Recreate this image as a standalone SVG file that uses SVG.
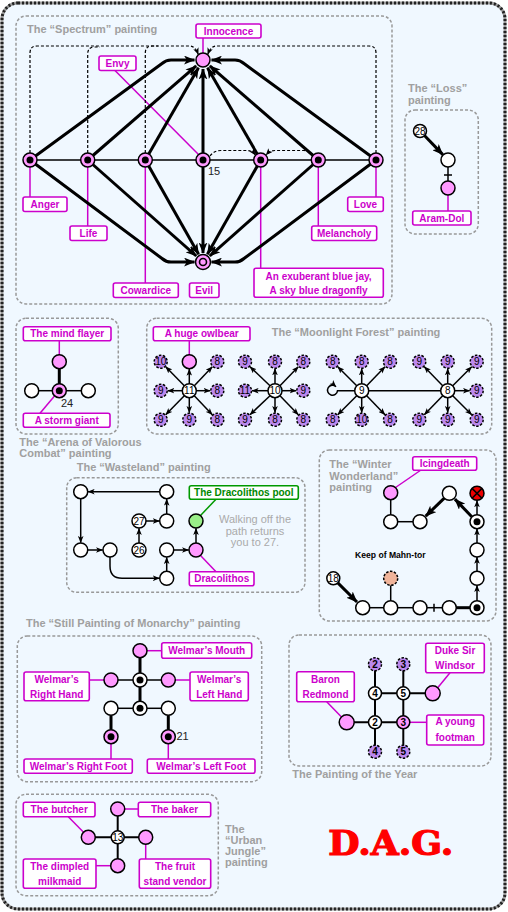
<svg xmlns="http://www.w3.org/2000/svg" width="508" height="912" viewBox="0 0 508 912">
<defs>
<marker id="ab" viewBox="0 0 10 8" refX="9.5" refY="4" markerWidth="11" markerHeight="9" markerUnits="userSpaceOnUse" orient="auto"><path d="M0,0 L10,4 L0,8 L2.5,4 z" fill="#000"/></marker>
<marker id="as" viewBox="0 0 10 8" refX="9.5" refY="4" markerWidth="7" markerHeight="6" markerUnits="userSpaceOnUse" orient="auto"><path d="M0,0 L10,4 L0,8 L2.5,4 z" fill="#000"/></marker>
</defs>
<style>
text{font-family:"Liberation Sans",Arial,sans-serif}
text.dag{font-family:"DejaVu Serif","Liberation Serif",serif;font-weight:bold;font-size:33px;fill:#ff0000;stroke:#ff0000;stroke-width:1.2}
.box{fill:none;stroke:#999;stroke-width:1.5;stroke-dasharray:3 2}
.ttl{font-size:11px;font-weight:bold;fill:#a0a0a0}
.lb rect{fill:#fff;stroke:#cc00cc;stroke-width:1.6}
.lb text{font-size:10px;font-weight:bold;fill:#cc00cc;text-anchor:middle}
.ml{stroke:#cc00cc;stroke-width:1.5;fill:none}
.e{stroke:#000;stroke-width:1.5;fill:none}
.e2{stroke:#000;stroke-width:2;fill:none}
.t{stroke:#000;stroke-width:3;fill:none}
.d{stroke:#000;stroke-width:1.2;fill:none;stroke-dasharray:3 2}
.w{fill:#fff;stroke:#000;stroke-width:1.5}
.p{fill:#ff99ff;stroke:#000;stroke-width:1.5}
.v{fill:#bb88ee;stroke:#000;stroke-width:1.5;stroke-dasharray:2.5 1.5}
.dot{fill:#000}
.num{font-size:10px;fill:#000;text-anchor:middle}
.nb{font-size:10px;font-weight:bold;fill:#000;text-anchor:middle}
.sm{font-size:11px;fill:#222}
</style>

<rect x="2" y="3" width="503" height="906" rx="16" fill="#f0f8ff" stroke="#999" stroke-width="3"/>
<rect x="2" y="3" width="503" height="906" rx="16" fill="none" stroke="#222" stroke-width="3" stroke-dasharray="2 2"/>

<!-- ================= Spectrum ================= -->
<g id="spectrum">
<rect class="box" x="16" y="16" width="376" height="288" rx="10"/>
<text class="ttl" x="27" y="33">The “Spectrum” painting</text>
<g id="spectrum-label-lines">
<line class="ml" x1="203" y1="38" x2="203" y2="53"/>
<line class="ml" x1="115" y1="70.5" x2="199" y2="155"/>
<line class="ml" x1="30" y1="167" x2="30" y2="197"/>
<line class="ml" x1="87.7" y1="167" x2="87.7" y2="226"/>
<line class="ml" x1="145.3" y1="167" x2="145.3" y2="283"/>
<line class="ml" x1="260.7" y1="167" x2="260.7" y2="268"/>
<line class="ml" x1="318.3" y1="167" x2="318.3" y2="226"/>
<line class="ml" x1="376" y1="167" x2="376" y2="197"/>
</g>
<g id="spectrum-connectors">
<line class="e" x1="30" y1="160" x2="376" y2="160"/>
<path class="d" d="M30,153 L30,53 Q30,46 37,46 L190,46 Q195,46 198.3,54.5" marker-end="url(#as)"/>
<path class="d" d="M87.7,153 L87.7,54 Q87.7,47 94.7,47 L100,47"/>
<path class="d" d="M145.3,153 L145.3,53 Q145.3,46 152.3,46 L158,46"/>
<path class="d" d="M376,153 L376,53 Q376,46 369,46 L216,46 Q211,46 207.7,54.5" marker-end="url(#as)"/>
<path class="d" d="M210,156 Q214,150.5 221,150.5 L247,150.5 Q252,150.5 255.5,155" marker-end="url(#as)"/>
<path class="d" d="M313.5,155.5 Q310,150.5 304,150.5 L275,150.5 Q270,150.5 266,155" marker-end="url(#as)"/>
<path class="t" d="M30,160 L162,63.5 Q166,60 171,60 L194.5,60" marker-end="url(#ab)"/>
<path class="t" d="M87.7,160 L196.2,65.9" marker-end="url(#ab)"/>
<path class="t" d="M145.3,160 L198.5,67.8" marker-end="url(#ab)"/>
<path class="t" d="M203,160 L203,69" marker-end="url(#ab)"/>
<path class="t" d="M260.7,160 L207.5,67.8" marker-end="url(#ab)"/>
<path class="t" d="M318.3,160 L209.8,65.9" marker-end="url(#ab)"/>
<path class="t" d="M376,160 L244,63.5 Q240,60 235,60 L211.5,60" marker-end="url(#ab)"/>
<path class="t" d="M30,160 L162,258.5 Q166,262 171,262 L194.5,262" marker-end="url(#ab)"/>
<path class="t" d="M87.7,160 L196.3,256" marker-end="url(#ab)"/>
<path class="t" d="M145.3,160 L198.6,254.2" marker-end="url(#ab)"/>
<path class="t" d="M203,160 L203,253" marker-end="url(#ab)"/>
<path class="t" d="M260.7,160 L207.4,254.2" marker-end="url(#ab)"/>
<path class="t" d="M318.3,160 L209.7,256" marker-end="url(#ab)"/>
<path class="t" d="M376,160 L244,258.5 Q240,262 235,262 L211.5,262" marker-end="url(#ab)"/>
</g>
<g id="s-innocence"><circle class="p" cx="203" cy="60" r="7"/></g>
<g id="s-evil"><circle class="p" cx="203" cy="262" r="7.5"/><circle cx="203" cy="262" r="3.5" fill="#ff99ff" stroke="#000" stroke-width="1.6"/></g>
<g id="s-anger"><circle class="p" cx="30" cy="160" r="7"/><circle class="dot" cx="30" cy="160" r="3.5"/></g>
<g id="s-life"><circle class="p" cx="87.7" cy="160" r="7"/><circle class="dot" cx="87.7" cy="160" r="3.5"/></g>
<g id="s-cowardice"><circle class="p" cx="145.3" cy="160" r="7"/><circle class="dot" cx="145.3" cy="160" r="3.5"/></g>
<g id="s-envy"><circle class="p" cx="203" cy="160" r="7"/><circle class="dot" cx="203" cy="160" r="3.5"/><text class="sm" x="208" y="175">15</text></g>
<g id="s-bluejay"><circle class="p" cx="260.7" cy="160" r="7"/><circle class="dot" cx="260.7" cy="160" r="3.5"/></g>
<g id="s-melancholy"><circle class="p" cx="318.3" cy="160" r="7"/><circle class="dot" cx="318.3" cy="160" r="3.5"/></g>
<g id="s-love"><circle class="p" cx="376" cy="160" r="7"/><circle class="dot" cx="376" cy="160" r="3.5"/></g>
<g id="lbl-innocence" class="lb"><rect x="196" y="24" width="65" height="14" rx="2"/><text x="228.5" y="34.5">Innocence</text></g>
<g id="lbl-envy" class="lb"><rect x="99" y="56" width="37" height="14.5" rx="2"/><text x="117.5" y="66.7">Envy</text></g>
<g id="lbl-anger" class="lb"><rect x="23" y="197" width="44" height="14.5" rx="2"/><text x="45" y="207.7">Anger</text></g>
<g id="lbl-life" class="lb"><rect x="70" y="226" width="37" height="14.5" rx="2"/><text x="88.5" y="236.7">Life</text></g>
<g id="lbl-cowardice" class="lb"><rect x="113.3" y="283" width="65" height="14.5" rx="2"/><text x="145.8" y="293.7">Cowardice</text></g>
<g id="lbl-evil" class="lb"><rect x="189.5" y="283" width="29.5" height="14.5" rx="2"/><text x="204.2" y="293.7">Evil</text></g>
<g id="lbl-bluejay" class="lb"><rect x="254" y="268.3" width="129.3" height="29" rx="2"/><text x="318.6" y="279.7">An exuberant blue jay,</text><text x="318.6" y="294">A sky blue dragonfly</text></g>
<g id="lbl-melancholy" class="lb"><rect x="311.7" y="226" width="65" height="14.5" rx="2"/><text x="344.2" y="236.7">Melancholy</text></g>
<g id="lbl-love" class="lb"><rect x="347.7" y="197" width="35.6" height="14.5" rx="2"/><text x="365.5" y="207.7">Love</text></g>
</g>

<!-- ================= Loss ================= -->
<g id="loss">
<text class="ttl" x="408" y="92">The “Loss”</text>
<text class="ttl" x="408" y="103.5">painting</text>
<rect class="box" x="405" y="110" width="73.3" height="124" rx="10"/>
<g id="loss-connectors">
<line class="t" x1="424.2" y1="135.3" x2="442.8" y2="154.6" marker-end="url(#ab)"/>
<line class="e" x1="448" y1="167" x2="448" y2="181"/>
<line class="e" x1="444" y1="175" x2="452" y2="175"/>
<line class="ml" x1="448" y1="195" x2="448" y2="211"/>
</g>
<g id="loss-28"><circle class="w" cx="420" cy="131" r="6.5"/><text class="num" x="420" y="134.5">28</text></g>
<g id="loss-a"><circle class="w" cx="448" cy="160" r="7"/></g>
<g id="loss-aramdol"><circle class="p" cx="448" cy="188" r="7"/></g>
<g id="lbl-aramdol" class="lb"><rect x="412.7" y="211" width="58.3" height="14" rx="2"/><text x="441.8" y="221.5">Aram-Dol</text></g>
</g>

<!-- ================= Arena ================= -->
<g id="arena">
<rect class="box" x="16" y="318.3" width="102.3" height="115.7" rx="10"/>
<text class="ttl" x="19.3" y="445.7">The “Arena of Valorous</text>
<text class="ttl" x="19.3" y="456.7">Combat” painting</text>
<g id="arena-connectors">
<line class="ml" x1="59.3" y1="340.7" x2="59.3" y2="355"/>
<line class="ml" x1="40" y1="413.3" x2="54.5" y2="396"/>
<line class="t" x1="59.3" y1="368.7" x2="59.3" y2="384"/>
<line class="e" x1="38.7" y1="390.7" x2="52.3" y2="390.7"/>
<line class="e" x1="66.3" y1="390.7" x2="81.3" y2="390.7"/>
</g>
<g id="arena-mindflayer"><circle class="p" cx="59.3" cy="361.7" r="7"/></g>
<g id="arena-stormgiant"><circle class="p" cx="59.3" cy="390.7" r="7"/><circle class="dot" cx="59.3" cy="390.7" r="3.5"/><text class="sm" x="61" y="406.5">24</text></g>
<g id="arena-left"><circle class="w" cx="31.7" cy="390.7" r="7"/></g>
<g id="arena-right"><circle class="w" cx="88.3" cy="390.7" r="7"/></g>
<g id="lbl-mindflayer" class="lb"><rect x="23.3" y="326.7" width="87.7" height="14" rx="2"/><text x="67.2" y="337.2">The mind flayer</text></g>
<g id="lbl-stormgiant" class="lb"><rect x="23.3" y="413.3" width="86.7" height="14" rx="2"/><text x="66.7" y="423.8">A storm giant</text></g>
</g>

<!-- ================= Moonlight Forest ================= -->
<g id="moonlight">
<rect class="box" x="146.7" y="318.3" width="345" height="115.7" rx="10"/>
<text class="ttl" x="271.7" y="335.7">The “Moonlight Forest” painting</text>
<g id="moonlight-connectors">
<line class="ml" x1="189.3" y1="340.7" x2="189.3" y2="355"/>
<path class="e" d="M184.3,385.7 L165.7,366.7" marker-end="url(#as)"/>
<path class="e" d="M189.3,383.7 L189.3,369" marker-end="url(#as)"/>
<path class="e" d="M194.3,385.7 L212.3,366.7" marker-end="url(#as)"/>
<path class="e" d="M182.3,390.7 L167.7,390.7" marker-end="url(#as)"/>
<path class="e" d="M196.3,390.7 L210.3,390.7" marker-end="url(#as)"/>
<path class="e" d="M184.3,395.7 L165.7,414.7" marker-end="url(#as)"/>
<path class="e" d="M189.3,397.7 L189.3,412.7" marker-end="url(#as)"/>
<path class="e" d="M194.3,395.7 L212.3,414.7" marker-end="url(#as)"/>
<path class="e" d="M270,385.7 L250,366.7" marker-end="url(#as)"/>
<path class="e" d="M275,383.7 L275,368.7" marker-end="url(#as)"/>
<path class="e" d="M280,385.7 L298.3,366.7" marker-end="url(#as)"/>
<path class="e" d="M268,390.7 L252,390.7" marker-end="url(#as)"/>
<path class="e" d="M282,390.7 L296.3,390.7" marker-end="url(#as)"/>
<path class="e" d="M270,395.7 L250,414.7" marker-end="url(#as)"/>
<path class="e" d="M275,397.7 L275,412.7" marker-end="url(#as)"/>
<path class="e" d="M280,395.7 L298.3,414.7" marker-end="url(#as)"/>
<path class="e" d="M356.7,385.7 L337.7,366.7" marker-end="url(#as)"/>
<path class="e" d="M361.7,383.7 L361.7,368.7" marker-end="url(#as)"/>
<path class="e" d="M366.7,385.7 L385,366.7" marker-end="url(#as)"/>
<path class="e" d="M356.7,395.7 L337.7,414.7" marker-end="url(#as)"/>
<path class="e" d="M361.7,397.7 L361.7,412.7" marker-end="url(#as)"/>
<path class="e" d="M366.7,395.7 L385,414.7" marker-end="url(#as)"/>
<path class="e" d="M354.7,390.7 L337.5,390.7 A5,5 0 1 1 336,386.7" marker-end="url(#as)"/>
<path class="e" d="M368.7,390.7 L440.7,390.7"/>
<path class="e" d="M442.7,385.7 L424.3,366.7" marker-end="url(#as)"/>
<path class="e" d="M447.7,383.7 L447.7,368.7" marker-end="url(#as)"/>
<path class="e" d="M452.7,385.7 L471.7,366.7" marker-end="url(#as)"/>
<path class="e" d="M454.7,390.7 L469.7,390.7" marker-end="url(#as)"/>
<path class="e" d="M442.7,395.7 L424.3,414.7" marker-end="url(#as)"/>
<path class="e" d="M447.7,397.7 L447.7,412.7" marker-end="url(#as)"/>
<path class="e" d="M452.7,395.7 L471.7,414.7" marker-end="url(#as)"/>
</g>
<g id="mf-owlbear"><circle class="p" cx="189.3" cy="361.7" r="7"/></g>
<g id="mf-c11"><circle class="w" cx="189.3" cy="390.7" r="7"/><text class="num" x="189.3" y="394.2">11</text></g>
<g id="mf-a1"><circle class="v" cx="160.7" cy="361.7" r="6.5"/><text class="num" x="160.7" y="365.2">10</text></g>
<g id="mf-a2"><circle class="v" cx="217.3" cy="361.7" r="6.5"/><text class="num" x="217.3" y="365.2">8</text></g>
<g id="mf-a3"><circle class="v" cx="160.7" cy="390.7" r="6.5"/><text class="num" x="160.7" y="394.2">9</text></g>
<g id="mf-a4"><circle class="v" cx="217.3" cy="390.7" r="6.5"/><text class="num" x="217.3" y="394.2">8</text></g>
<g id="mf-a5"><circle class="v" cx="160.7" cy="419.7" r="6.5"/><text class="num" x="160.7" y="423.2">9</text></g>
<g id="mf-a6"><circle class="v" cx="189.3" cy="419.7" r="6.5"/><text class="num" x="189.3" y="423.2">9</text></g>
<g id="mf-a7"><circle class="v" cx="217.3" cy="419.7" r="6.5"/><text class="num" x="217.3" y="423.2">8</text></g>
<g id="mf-c10"><circle class="w" cx="275" cy="390.7" r="7"/><text class="num" x="275" y="394.2">10</text></g>
<g id="mf-b1"><circle class="v" cx="245" cy="361.7" r="6.5"/><text class="num" x="245" y="365.2">9</text></g>
<g id="mf-b2"><circle class="v" cx="275" cy="361.7" r="6.5"/><text class="num" x="275" y="365.2">8</text></g>
<g id="mf-b3"><circle class="v" cx="303.3" cy="361.7" r="6.5"/><text class="num" x="303.3" y="365.2">8</text></g>
<g id="mf-b4"><circle class="v" cx="245" cy="390.7" r="6.5"/><text class="num" x="245" y="394.2">11</text></g>
<g id="mf-b5"><circle class="v" cx="303.3" cy="390.7" r="6.5"/><text class="num" x="303.3" y="394.2">9</text></g>
<g id="mf-b6"><circle class="v" cx="245" cy="419.7" r="6.5"/><text class="num" x="245" y="423.2">9</text></g>
<g id="mf-b7"><circle class="v" cx="275" cy="419.7" r="6.5"/><text class="num" x="275" y="423.2">8</text></g>
<g id="mf-b8"><circle class="v" cx="303.3" cy="419.7" r="6.5"/><text class="num" x="303.3" y="423.2">8</text></g>
<g id="mf-c9"><circle class="w" cx="361.7" cy="390.7" r="7"/><text class="num" x="361.7" y="394.2">9</text></g>
<g id="mf-d1"><circle class="v" cx="332.7" cy="361.7" r="6.5"/><text class="num" x="332.7" y="365.2">8</text></g>
<g id="mf-d2"><circle class="v" cx="361.7" cy="361.7" r="6.5"/><text class="num" x="361.7" y="365.2">8</text></g>
<g id="mf-d3"><circle class="v" cx="390" cy="361.7" r="6.5"/><text class="num" x="390" y="365.2">8</text></g>
<g id="mf-d4"><circle class="v" cx="332.7" cy="419.7" r="6.5"/><text class="num" x="332.7" y="423.2">8</text></g>
<g id="mf-d5"><circle class="v" cx="361.7" cy="419.7" r="6.5"/><text class="num" x="361.7" y="423.2">10</text></g>
<g id="mf-d6"><circle class="v" cx="390" cy="419.7" r="6.5"/><text class="num" x="390" y="423.2">8</text></g>
<g id="mf-c8"><circle class="w" cx="447.7" cy="390.7" r="7"/><text class="num" x="447.7" y="394.2">8</text></g>
<g id="mf-e1"><circle class="v" cx="419.3" cy="361.7" r="6.5"/><text class="num" x="419.3" y="365.2">9</text></g>
<g id="mf-e2"><circle class="v" cx="447.7" cy="361.7" r="6.5"/><text class="num" x="447.7" y="365.2">9</text></g>
<g id="mf-e3"><circle class="v" cx="476.7" cy="361.7" r="6.5"/><text class="num" x="476.7" y="365.2">9</text></g>
<g id="mf-e4"><circle class="v" cx="476.7" cy="390.7" r="6.5"/><text class="num" x="476.7" y="394.2">9</text></g>
<g id="mf-e5"><circle class="v" cx="419.3" cy="419.7" r="6.5"/><text class="num" x="419.3" y="423.2">9</text></g>
<g id="mf-e6"><circle class="v" cx="447.7" cy="419.7" r="6.5"/><text class="num" x="447.7" y="423.2">9</text></g>
<g id="mf-e7"><circle class="v" cx="476.7" cy="419.7" r="6.5"/><text class="num" x="476.7" y="423.2">9</text></g>
<g id="lbl-owlbear" class="lb"><rect x="153.3" y="326.7" width="96.7" height="14" rx="2"/><text x="201.7" y="337.2">A huge owlbear</text></g>
</g>

<!-- ================= Wasteland ================= -->
<g id="wasteland">
<text class="ttl" x="76.7" y="470.7">The “Wasteland” painting</text>
<rect class="box" x="66.7" y="477.7" width="238.3" height="114.6" rx="10"/>
<g id="wasteland-connectors">
<line stroke="#009900" stroke-width="1.5" x1="216" y1="499.2" x2="200.5" y2="515.5"/>
<line class="ml" x1="200.5" y1="555.5" x2="216" y2="571.7"/>
<path class="e" d="M159.7,491.7 L88,491.7" marker-end="url(#as)"/>
<path class="e" d="M80.7,498.7 L80.7,542.7" marker-end="url(#as)"/>
<path class="e" d="M87.7,550 L102.7,550" marker-end="url(#as)"/>
<path class="e" d="M110,557 L110,566 Q110,578.3 122,578.3 L159.5,578.3" marker-end="url(#as)"/>
<path class="e" d="M166.7,571.3 L166.7,557.3" marker-end="url(#as)"/>
<path class="e" d="M173.7,550 L188.7,550" marker-end="url(#as)"/>
<path class="e" d="M196,543 L196,528.3" marker-end="url(#as)"/>
<path class="e" d="M166.7,514 L166.7,499" marker-end="url(#as)"/>
<path class="e" d="M146,521 L159.5,521" marker-end="url(#as)"/>
<path class="e" d="M139,543 L139,528.3" marker-end="url(#as)"/>
</g>
<g id="wl-a"><circle class="w" cx="80.7" cy="491.7" r="7"/></g>
<g id="wl-b"><circle class="w" cx="166.7" cy="491.7" r="7"/></g>
<g id="wl-27"><circle class="w" cx="139" cy="521" r="7"/><text class="num" x="139" y="524.5">27</text></g>
<g id="wl-d"><circle class="w" cx="166.7" cy="521" r="7"/></g>
<g id="wl-e"><circle class="w" cx="80.7" cy="550" r="7"/></g>
<g id="wl-f"><circle class="w" cx="110" cy="550" r="7"/></g>
<g id="wl-26"><circle class="w" cx="139" cy="550" r="7"/><text class="num" x="139" y="553.5">26</text></g>
<g id="wl-h"><circle class="w" cx="166.7" cy="550" r="7"/></g>
<g id="wl-i"><circle class="w" cx="166.7" cy="578.3" r="7"/></g>
<g id="wl-pool"><circle cx="196" cy="521" r="7" fill="#99ee88" stroke="#000" stroke-width="1.5"/></g>
<g id="wl-dracolithos"><circle class="p" cx="196" cy="550" r="7"/></g>
<g id="lbl-pool"><rect x="189.3" y="485.7" width="109" height="13.5" rx="2" fill="#fff" stroke="#009900" stroke-width="1.6"/><text x="243.8" y="496" font-size="10" font-weight="bold" fill="#008800" text-anchor="middle">The Dracolithos pool</text></g>
<g id="lbl-dracolithos" class="lb"><rect x="189.3" y="571.7" width="64.7" height="14" rx="2"/><text x="221.7" y="582.2">Dracolithos</text></g>
<g id="wl-note" fill="#aaa" font-size="11" text-anchor="middle"><text x="255" y="523">Walking off the</text><text x="255" y="534.5">path returns</text><text x="255" y="546">you to 27.</text></g>
</g>

<!-- ================= Winter Wonderland ================= -->
<g id="winter">
<rect class="box" x="319.3" y="450" width="176.7" height="171" rx="10"/>
<text class="ttl" x="329.3" y="467.7">The “Winter</text>
<text class="ttl" x="329.3" y="479.5">Wonderland”</text>
<text class="ttl" x="329.3" y="491">painting</text>
<text x="355" y="558.3" font-size="8.6" font-weight="bold" fill="#000">Keep of Mahn-tor</text>
<g id="winter-connectors">
<line class="ml" x1="421" y1="470" x2="395.5" y2="487.5"/>
<line class="e" x1="390.7" y1="499.7" x2="390.7" y2="514.7"/>
<line class="e" x1="397.7" y1="521.7" x2="413" y2="521.7"/>
<line class="t" x1="444.3" y1="498.2" x2="425.7" y2="516.1" marker-end="url(#ab)"/>
<line class="t" x1="471.8" y1="516.7" x2="454.9" y2="499.1" marker-end="url(#ab)"/>
<path class="e" d="M477,514.7 L477,500.5" marker-end="url(#as)"/>
<path class="e" d="M477,543 L477,528.7" marker-end="url(#as)"/>
<path class="e" d="M477,571.3 L477,557" marker-end="url(#as)"/>
<path class="e" d="M477,600.7 L477,585.3" marker-end="url(#as)"/>
<line class="e" x1="369.7" y1="607.7" x2="383.7" y2="607.7"/>
<line class="e" x1="397.7" y1="607.7" x2="413" y2="607.7"/>
<line class="e" x1="427" y1="607.7" x2="442.3" y2="607.7"/>
<line class="e" x1="434" y1="603.7" x2="434" y2="611.7"/>
<line class="t" x1="456.3" y1="607.7" x2="470" y2="607.7"/>
<line class="e" x1="390.7" y1="585.3" x2="390.7" y2="600.7"/>
<line class="t" x1="337.6" y1="582.6" x2="357" y2="602" marker-end="url(#ab)"/>
</g>
<g id="ww-icingdeath"><circle class="p" cx="390.7" cy="492.7" r="7"/></g>
<g id="ww-a"><circle class="w" cx="390.7" cy="521.7" r="7"/></g>
<g id="ww-b"><circle class="w" cx="420" cy="521.7" r="7"/></g>
<g id="ww-c"><circle class="w" cx="449.3" cy="493.3" r="7"/></g>
<g id="ww-x"><circle cx="477" cy="493.3" r="7" fill="#ee0000" stroke="#000" stroke-width="1.5"/><path d="M472.3,488.6 L481.7,498 M481.7,488.6 L472.3,498" stroke="#000" stroke-width="1.5"/></g>
<g id="ww-d"><circle class="w" cx="477" cy="521.7" r="7"/><circle class="dot" cx="477" cy="521.7" r="3.5"/></g>
<g id="ww-e"><circle class="w" cx="477" cy="550" r="7"/></g>
<g id="ww-f"><circle class="w" cx="477" cy="578.3" r="7"/></g>
<g id="ww-g"><circle class="w" cx="477" cy="607.7" r="7"/><circle class="dot" cx="477" cy="607.7" r="3.5"/></g>
<g id="ww-h"><circle class="w" cx="449.3" cy="607.7" r="7"/></g>
<g id="ww-i"><circle class="w" cx="420" cy="607.7" r="7"/></g>
<g id="ww-j"><circle class="w" cx="390.7" cy="607.7" r="7"/></g>
<g id="ww-k"><circle class="w" cx="362.7" cy="607.7" r="7"/></g>
<g id="ww-keep"><circle cx="390.7" cy="578.3" r="7" fill="#f0b49a" stroke="#000" stroke-width="1.5" stroke-dasharray="2.5 1.5"/></g>
<g id="ww-18"><circle class="w" cx="333.3" cy="578.3" r="6.5"/><text class="num" x="333.3" y="581.8">18</text></g>
<g id="lbl-icingdeath" class="lb"><rect x="412.7" y="456.7" width="64" height="13.5" rx="2"/><text x="444.7" y="467">Icingdeath</text></g>
</g>

<!-- ================= Monarchy ================= -->
<g id="monarchy">
<text class="ttl" x="26" y="627.3">The “Still Painting of Monarchy” painting</text>
<rect class="box" x="17.3" y="636" width="244.4" height="145.7" rx="10"/>
<g id="monarchy-connectors">
<line class="ml" x1="147" y1="650.7" x2="161.7" y2="650.7"/>
<line class="ml" x1="89.3" y1="680" x2="104" y2="680"/>
<line class="ml" x1="175.3" y1="680" x2="190" y2="680"/>
<line class="ml" x1="111" y1="743.7" x2="111" y2="759"/>
<line class="ml" x1="168.3" y1="743.7" x2="168.3" y2="759"/>
<line class="t" x1="140" y1="657.7" x2="140" y2="673"/>
<line class="t" x1="140" y1="687" x2="140" y2="701.3"/>
<line class="t" x1="111" y1="715.3" x2="111" y2="729.7"/>
<line class="t" x1="168.3" y1="715.3" x2="168.3" y2="729.7"/>
<line class="e" x1="118" y1="680" x2="133" y2="680"/>
<line class="e" x1="147" y1="680" x2="161.3" y2="680"/>
<line class="e" x1="118" y1="708.3" x2="133" y2="708.3"/>
<line class="e" x1="147" y1="708.3" x2="161.3" y2="708.3"/>
</g>
<g id="wm-mouth"><circle class="p" cx="140" cy="650.7" r="7"/></g>
<g id="wm-righthand"><circle class="p" cx="111" cy="680" r="7"/></g>
<g id="wm-chest"><circle class="w" cx="140" cy="680" r="7"/><circle class="dot" cx="140" cy="680" r="3.5"/></g>
<g id="wm-lefthand"><circle class="p" cx="168.3" cy="680" r="7"/></g>
<g id="wm-rhip"><circle class="w" cx="111" cy="708.3" r="7"/></g>
<g id="wm-waist"><circle class="w" cx="140" cy="708.3" r="7"/><circle class="dot" cx="140" cy="708.3" r="3.5"/></g>
<g id="wm-lhip"><circle class="w" cx="168.3" cy="708.3" r="7"/></g>
<g id="wm-rightfoot"><circle class="p" cx="111" cy="736.7" r="7"/><circle class="dot" cx="111" cy="736.7" r="3.5"/></g>
<g id="wm-leftfoot"><circle class="p" cx="168.3" cy="736.7" r="7"/><circle class="dot" cx="168.3" cy="736.7" r="3.5"/><text class="sm" x="176.5" y="740">21</text></g>
<g id="lbl-mouth" class="lb"><rect x="161.7" y="642.7" width="90" height="15.6" rx="2"/><text x="206.7" y="654">Welmar’s Mouth</text></g>
<g id="lbl-righthand" class="lb"><rect x="24" y="672" width="65.3" height="28.7" rx="2"/><text x="56.7" y="682.5">Welmar’s</text><text x="56.7" y="697.5">Right Hand</text></g>
<g id="lbl-lefthand" class="lb"><rect x="190" y="672" width="58.3" height="28.7" rx="2"/><text x="219.2" y="682.5">Welmar’s</text><text x="219.2" y="697.5">Left Hand</text></g>
<g id="lbl-rightfoot" class="lb"><rect x="24" y="759" width="108.3" height="14.3" rx="2"/><text x="78.2" y="769.6">Welmar’s Right Foot</text></g>
<g id="lbl-leftfoot" class="lb"><rect x="147.3" y="759" width="107.7" height="14.3" rx="2"/><text x="201.2" y="769.6">Welmar’s Left Foot</text></g>
</g>

<!-- ================= Painting of the Year ================= -->
<g id="year">
<rect class="box" x="289" y="635" width="202" height="131" rx="10"/>
<text class="ttl" x="292.3" y="778.3">The Painting of the Year</text>
<g id="year-connectors">
<line class="ml" x1="326.7" y1="701.7" x2="341.5" y2="717"/>
<line class="ml" x1="450" y1="672.7" x2="437.5" y2="688"/>
<line class="ml" x1="410" y1="722.3" x2="426.7" y2="722.3"/>
<line class="e2" x1="375" y1="664.3" x2="375" y2="751.7"/>
<line class="e2" x1="403.3" y1="664.3" x2="403.3" y2="751.7"/>
<line class="e2" x1="375" y1="693.3" x2="432.7" y2="693.3"/>
<line class="e2" x1="346.7" y1="722.3" x2="403.3" y2="722.3"/>
</g>
<g id="py-2top"><circle class="v" cx="375" cy="664.3" r="6.5"/><text class="nb" x="375" y="667.8">2</text></g>
<g id="py-3top"><circle class="v" cx="403.3" cy="664.3" r="6.5"/><text class="nb" x="403.3" y="667.8">3</text></g>
<g id="py-4"><circle class="w" cx="375" cy="693.3" r="6.5"/><text class="nb" x="375" y="696.8">4</text></g>
<g id="py-5"><circle class="w" cx="403.3" cy="693.3" r="6.5"/><text class="nb" x="403.3" y="696.8">5</text></g>
<g id="py-duke"><circle class="p" cx="432.7" cy="693.3" r="7.5"/></g>
<g id="py-baron"><circle class="p" cx="346.7" cy="722.3" r="7.5"/></g>
<g id="py-2"><circle class="w" cx="375" cy="722.3" r="6.5"/><text class="nb" x="375" y="725.8">2</text></g>
<g id="py-3"><circle class="p" cx="403.3" cy="722.3" r="6.5"/><text class="nb" x="403.3" y="725.8">3</text></g>
<g id="py-4bot"><circle class="v" cx="375" cy="751.7" r="6.5"/><text class="nb" x="375" y="755.2">4</text></g>
<g id="py-5bot"><circle class="v" cx="403.3" cy="751.7" r="6.5"/><text class="nb" x="403.3" y="755.2">5</text></g>
<g id="lbl-baron" class="lb"><rect x="296.7" y="671.7" width="57.6" height="30" rx="2"/><text x="325.5" y="682.5">Baron</text><text x="325.5" y="697.5">Redmond</text></g>
<g id="lbl-duke" class="lb"><rect x="425.7" y="643.3" width="58.6" height="29.4" rx="2"/><text x="455" y="653.7">Duke Sir</text><text x="455" y="669">Windsor</text></g>
<g id="lbl-footman" class="lb"><rect x="426.7" y="715" width="57" height="30" rx="2"/><text x="455.2" y="725.3">A young</text><text x="455.2" y="740.7">footman</text></g>
</g>

<!-- ================= Urban Jungle ================= -->
<g id="urban">
<rect class="box" x="16" y="794.3" width="202.3" height="101.4" rx="10"/>
<text class="ttl" x="225" y="832.5">The</text>
<text class="ttl" x="225" y="843.5">“Urban</text>
<text class="ttl" x="225" y="854.5">Jungle”</text>
<text class="ttl" x="225" y="865.5">painting</text>
<g id="urban-connectors">
<line class="ml" x1="68.3" y1="816.7" x2="83.3" y2="832"/>
<line class="ml" x1="124.7" y1="809" x2="138.3" y2="809"/>
<line class="ml" x1="96" y1="865.7" x2="110.7" y2="865.7"/>
<line class="ml" x1="145.7" y1="844.3" x2="145.7" y2="859"/>
<line class="e2" x1="88.3" y1="837.3" x2="145.7" y2="837.3"/>
<line class="e2" x1="117.7" y1="809" x2="117.7" y2="865.7"/>
</g>
<g id="uj-baker"><circle class="p" cx="117.7" cy="809" r="7"/></g>
<g id="uj-butcher"><circle class="p" cx="88.3" cy="837.3" r="7"/></g>
<g id="uj-13"><circle class="w" cx="117.7" cy="837.3" r="6.5"/><text class="num" x="117.7" y="840.8">13</text></g>
<g id="uj-vendor"><circle class="p" cx="145.7" cy="837.3" r="7"/></g>
<g id="uj-milkmaid"><circle class="p" cx="117.7" cy="865.7" r="7"/></g>
<g id="lbl-butcher" class="lb"><rect x="23.3" y="802.3" width="71.7" height="14.4" rx="2"/><text x="59.2" y="812.8">The butcher</text></g>
<g id="lbl-baker" class="lb"><rect x="138.3" y="802.3" width="72.4" height="14.4" rx="2"/><text x="174.5" y="812.8">The baker</text></g>
<g id="lbl-milkmaid" class="lb"><rect x="23.3" y="859" width="72.7" height="29.3" rx="2"/><text x="59.7" y="869.5">The dimpled</text><text x="59.7" y="885">milkmaid</text></g>
<g id="lbl-vendor" class="lb"><rect x="139.3" y="859" width="71.4" height="29.3" rx="2"/><text x="175" y="869.5">The fruit</text><text x="175" y="885">stand vendor</text></g>
</g>

<text class="dag" x="328.3" y="855" textLength="125" lengthAdjust="spacingAndGlyphs">D.A.G.</text>
</svg>
